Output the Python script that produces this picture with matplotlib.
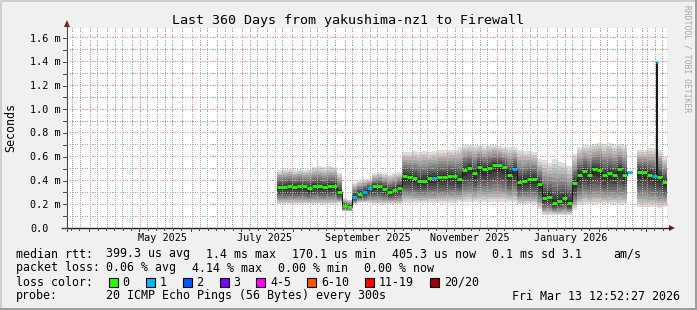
import numpy as np
import pandas as pd
import matplotlib
matplotlib.use("Agg")
import matplotlib.pyplot as plt
import matplotlib.dates as mdates
from matplotlib.collections import LineCollection
from matplotlib.patches import Rectangle, Polygon
from matplotlib.transforms import blended_transform_factory, ScaledTranslation

# ---------------- data ----------------
title = "Last 360 Days from yakushima-nz1 to Firewall"
end_time = pd.Timestamp("2026-03-13 12:52:27")
span_days = 360
first_sample = pd.Timestamp("2025-07-22 12:00")
sample_step_days = 3

median_ms = [0.345, 0.345, 0.354, 0.345, 0.35, 0.35, 0.334, 0.357, 0.35, 0.345, 0.355, 0.357,
             0.306, 0.185, 0.175, 0.264, 0.29, 0.306, 0.334, 0.35, 0.35, 0.33, 0.306, 0.32,
             0.34, 0.44, 0.43, 0.42, 0.40, 0.40, 0.42, 0.42, 0.43, 0.43, 0.44, 0.435,
             0.41, 0.49, 0.508, 0.46, 0.516, 0.494, 0.508, 0.53, 0.53, 0.51, 0.45, 0.494,
             0.39, 0.40, 0.413, 0.413, 0.37, 0.255, 0.264, 0.213, 0.23, 0.25, 0.21, 0.38,
             0.45, 0.48, 0.45, 0.494, 0.49, 0.446, 0.46, 0.45, 0.494, 0.45, 0.47, np.nan,
             0.47, 0.47, 0.45, 0.44, 0.43, 0.385]
low_ms = [0.20, 0.20, 0.20, 0.20, 0.20, 0.20, 0.20, 0.20, 0.20, 0.20, 0.20, 0.20,
          0.21, 0.14, 0.14, 0.20, 0.21, 0.21, 0.21, 0.20, 0.20, 0.20, 0.20, 0.20,
          0.20, 0.21, 0.21, 0.21, 0.21, 0.21, 0.21, 0.21, 0.21, 0.21, 0.21, 0.21,
          0.22, 0.22, 0.22, 0.22, 0.22, 0.22, 0.22, 0.22, 0.22, 0.22, 0.22, 0.22,
          0.20, 0.20, 0.20, 0.20, 0.16, 0.11, 0.11, 0.11, 0.11, 0.11, 0.11, 0.15,
          0.19, 0.20, 0.20, 0.20, 0.20, 0.20, 0.20, 0.20, 0.19, 0.20, 0.19, np.nan,
          0.18, 0.18, 0.18, 0.18, 0.17, 0.18]
high_ms = [0.49, 0.50, 0.50, 0.49, 0.50, 0.49, 0.50, 0.51, 0.52, 0.51, 0.52, 0.51,
           0.46, 0.25, 0.24, 0.38, 0.40, 0.41, 0.41, 0.46, 0.47, 0.46, 0.45, 0.46,
           0.47, 0.64, 0.64, 0.65, 0.64, 0.65, 0.64, 0.65, 0.66, 0.66, 0.66, 0.66,
           0.68, 0.70, 0.70, 0.70, 0.70, 0.69, 0.70, 0.70, 0.69, 0.68, 0.68, 0.68,
           0.66, 0.65, 0.65, 0.64, 0.58, 0.57, 0.55, 0.58, 0.56, 0.55, 0.52, 0.62,
           0.68, 0.70, 0.70, 0.71, 0.72, 0.71, 0.72, 0.70, 0.71, 0.70, 0.71, np.nan,
           0.66, 0.66, 0.67, 0.67, 0.66, 0.60]
loss_pings = [0, 0, 0, 0, 0, 0, 0, 0, 0, 0, 0, 0,
              0, 0, 0, 1, 0, 1, 1, 0, 0, 0, 0, 0,
              0, 0, 0, 0, 0, 0, 0, 1, 0, 0, 0, 0,
              0, 0, 0, 0, 0, 0, 0, 0, 0, 0, 0, 1,
              0, 0, 0, 0, 0, 0, 0, 0, 0, 0, 0, 0,
              0, 0, 0, 0, 0, 0, 0, 0, 0, 0, 1, 0,
              0, 0, 0, 1, 0, 0]

spike_times = ["2026-03-07 12:00"]
spike_ms = [1.40]
spike_loss = [1]

ytick_values = [0.0, 0.2, 0.4, 0.6, 0.8, 1.0, 1.2, 1.4, 1.6]
ytick_labels = ["0.0", "0.2 m", "0.4 m", "0.6 m", "0.8 m", "1.0 m", "1.2 m", "1.4 m", "1.6 m"]
month_labels = ["May 2025", "July 2025", "September 2025", "November 2025", "January 2026"]
month_label_dates = ["2025-05-15", "2025-07-15", "2025-09-15", "2025-11-15", "2026-01-15"]

loss_labels = ["0", "1", "2", "3", "4-5", "6-10", "11-19", "20/20"]
loss_colors = ["#26ff00", "#00b8ff", "#0059ff", "#7e00ff", "#ff00ff", "#ff5500", "#ff0000", "#a10000"]

rtt_row = ["median rtt:", "399.3 us avg", "1.4 ms max", "170.1 us min", "405.3 us now",
           "0.1 ms sd", "3.1", "am/s"]
loss_row = ["packet loss:", "0.06 % avg", "4.14 % max", "0.00 % min", "0.00 % now"]
probe_row = ["probe:", "20 ICMP Echo Pings (56 Bytes) every 300s", "Fri Mar 13 12:52:27 2026"]

# ---------------- layout ----------------
W, H = 697, 310
fig = plt.figure(figsize=(W / 100, H / 100), dpi=100)
fig.patch.set_facecolor("#f0f0f0")
MONO = "DejaVu Sans Mono"


def fx(px):
    return px / W


def fy(py):
    return 1 - py / H


fig_px = fig.transFigure
# 3D border (rrdtool style)
fig.add_artist(Rectangle((0, fy(2)), 1, 2 / H, transform=fig_px, fc="#cfcfcf", ec="none"))
fig.add_artist(Rectangle((0, 0), 2 / W, 1, transform=fig_px, fc="#cfcfcf", ec="none"))
fig.add_artist(Rectangle((0, 0), 1, 2 / H, transform=fig_px, fc="#9e9e9e", ec="none"))
fig.add_artist(Rectangle((fx(W - 2), 0), 2 / W, 1, transform=fig_px, fc="#9e9e9e", ec="none"))

L, R, T, B = 67, 667, 28, 228
ax = fig.add_axes([fx(L), fy(B), (R - L) / W, (B - T) / H])
ax.set_facecolor("white")
for s in ax.spines.values():
    s.set_visible(False)
ax.set_xticks([])
ax.set_yticks([])

t_end = end_time
t_start = end_time - pd.Timedelta(days=span_days)
ax.set_xlim(mdates.date2num(t_start), mdates.date2num(t_end))
ax.set_ylim(0, (B - T) / 118.75)
ax.set_autoscale_on(False)

# ---------------- smoke ----------------
med = np.array(median_ms, dtype=float)
lo = np.array(low_ms, dtype=float)
hi = np.array(high_ms, dtype=float)
edges = pd.date_range(first_sample, periods=len(med) + 1, freq=f"{sample_step_days}D")
tn = mdates.date2num(edges)

half = 10
for i in range(1, half + 1):
    g = 19 * (half - i) + 50
    col = "#%02x%02x%02x" % (g, g, g)
    frac = (half - i + 1) / half
    lower = med - (med - lo) * frac ** 0.7
    upper = med + (hi - med) * frac ** 1.1
    ax.fill_between(tn, np.append(lower, lower[-1]), np.append(upper, upper[-1]),
                    step="post", color=col, lw=0, zorder=1)

# ---------------- dotted grid (1px dots every 2px) ----------------
minor_c = "#ababab"
major_c = "#eb9595"
inv = ax.transData.inverted()
x0d, x1d = ax.get_xlim()


def hgrid(v, color, z):
    yd = ax.transData.transform((x0d, v))[1]
    yc = np.floor(yd) + 0.5
    xs = np.arange(H * 0 + L, R + 1, 2) + 0.5
    pts = inv.transform(np.column_stack([xs, np.full_like(xs, yc)]))
    ax.plot(pts[:, 0], pts[:, 1], ls="none", marker=",", color=color, zorder=z, clip_on=False)


def vgrid(xv, color, z):
    xd = ax.transData.transform((xv, 0))[0]
    xc = np.floor(xd) + 0.5
    ys = np.arange(H - B + 1, H - T, 2) + 0.5
    pts = inv.transform(np.column_stack([np.full_like(ys, xc), ys]))
    ax.plot(pts[:, 0], pts[:, 1], ls="none", marker=",", color=color, zorder=z, clip_on=False)


month_starts = pd.date_range("2025-03-01", "2026-03-01", freq="MS")
minor_days = []
for ms in month_starts:
    for d in (5, 10, 15, 20, 25):
        minor_days.append(ms + pd.Timedelta(days=d))
for k in range(1, 17, 2):
    hgrid(k / 10, minor_c, 2)
for d in minor_days:
    if t_start < d < t_end:
        vgrid(mdates.date2num(d), minor_c, 2)
for k in range(2, 17, 2):
    hgrid(k / 10, major_c, 2.1)
for ms in month_starts:
    if t_start < ms < t_end:
        vgrid(mdates.date2num(ms), major_c, 2.1)

# ---------------- median line ----------------
ax.step(tn, np.append(med, med[-1]), where="post", color="#1a1a1a", lw=0.72, zorder=4)
segs, cols = [], []
for k in range(len(med)):
    if np.isnan(med[k]):
        continue
    segs.append([(tn[k], med[k]), (tn[k + 1], med[k])])
    cols.append(loss_colors[loss_pings[k]])
ax.add_collection(LineCollection(segs, colors=cols, linewidths=2.0, capstyle="butt", zorder=5))

# spike
for st, sv, sl in zip(spike_times, spike_ms, spike_loss):
    stn = mdates.date2num(pd.Timestamp(st))
    k = int(np.searchsorted(tn, stn, side="right") - 1)
    ax.vlines(stn, med[k], sv, color="#1a1a1a", lw=1.5, zorder=4.5)
    ax.hlines(sv, stn - 0.6, stn + 0.6, color=loss_colors[sl], lw=2.0, zorder=5)

# ---------------- axes decorations ----------------
fig.add_artist(plt.Line2D([fx(62), fx(670)], [fy(B), fy(B)], color="#1f1f1f", lw=1.0, transform=fig_px))
fig.add_artist(plt.Line2D([fx(L), fx(L)], [fy(B + 3), fy(24)], color="#4a4a4a", lw=0.8, transform=fig_px))
fig.add_artist(Polygon([(fx(L - 3), fy(27)), (fx(L + 3), fy(27)), (fx(L), fy(20))], closed=True,
                       fc="#801f1f", ec="none", transform=fig_px))
fig.add_artist(Polygon([(fx(669), fy(225)), (fx(669), fy(231)), (fx(675), fy(228))], closed=True,
                       fc="#801f1f", ec="none", transform=fig_px))

ytr = blended_transform_factory(fig.transFigure, ax.transData)
for k in range(0, 17):
    v = k / 10
    fig.add_artist(plt.Line2D([fx(63), fx(L)], [v, v], color="#4a4a4a", lw=0.72, transform=ytr))
xtr = blended_transform_factory(ax.transData, fig.transFigure)
for ms in month_starts:
    if t_start < ms < t_end:
        x = mdates.date2num(ms)
        fig.add_artist(plt.Line2D([x, x], [fy(B), fy(B + 3)], color="#4a4a4a", lw=0.72, transform=xtr))
for d in minor_days:
    if t_start < d < t_end:
        x = mdates.date2num(d)
        fig.add_artist(plt.Line2D([x, x], [fy(B), fy(B + 2)], color="#4a4a4a", lw=0.72, transform=xtr))

# tick labels
lab_tr = ytr + ScaledTranslation(0, -3.5 / 100, fig.dpi_scale_trans)
for v, s in zip(ytick_values, ytick_labels):
    fig.text(fx(30), v, s, transform=lab_tr, family=MONO, fontsize=7.3, va="baseline", ha="left")
for d, s in zip(month_label_dates, month_labels):
    fig.text(mdates.date2num(pd.Timestamp(d)), fy(240.7), s, transform=xtr, family=MONO,
             fontsize=7.3, va="baseline", ha="center")

fig.text(fx(11), fy(128), "Seconds", rotation=90, family=MONO, fontsize=8.4, ha="center", va="center")
fig.text(fx(348), fy(24), title, family=MONO, fontsize=9.6, ha="center", va="baseline")
fig.text(fx(687), fy(5), "RRDTOOL / TOBI OETIKER", rotation=270, family=MONO, fontsize=5.8,
         color="#a8a8a8", ha="center", va="top")

# ---------------- legend ----------------
LS = 8.4
rtt_x = [16, 106.5, 206, 292, 392.5, 492.5, 561.5, 613.5]
for x, s in zip(rtt_x, rtt_row):
    fig.text(fx(x), fy(257.5), s, family=MONO, fontsize=LS, va="baseline")
loss_x = [16, 106.5, 192.5, 278.5, 364.5]
for x, s in zip(loss_x, loss_row):
    fig.text(fx(x), fy(271.5), s, family=MONO, fontsize=LS, va="baseline")
fig.text(fx(16), fy(285.5), "loss color:", family=MONO, fontsize=LS, va="baseline")
sw_x = [108.5, 146, 182.5, 219.5, 256, 307, 365, 430]
for x, s, c in zip(sw_x, loss_labels, loss_colors):
    fig.add_artist(Rectangle((fx(x), fy(287)), 9 / W, 9 / H, transform=fig_px, fc=c, ec="black", lw=0.8))
    fig.text(fx(x + 14), fy(285.5), s, family=MONO, fontsize=LS, va="baseline")
probe_x = [16, 106.5, 512.5]
for x, s in zip(probe_x, probe_row):
    fig.text(fx(x), fy(299.5), s, family=MONO, fontsize=LS, va="baseline")

fig.savefig("out.png", dpi=100, facecolor=fig.get_facecolor())
